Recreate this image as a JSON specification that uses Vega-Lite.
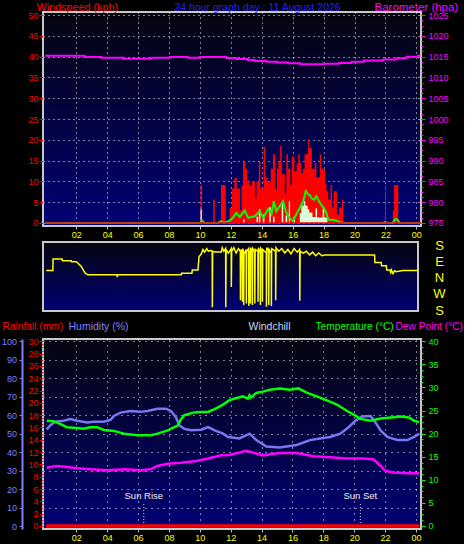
{
  "$schema": "https://vega.github.io/schema/vega-lite/v6.json",
  "background": "#000000",
  "padding": 0,
  "spacing": -3,
  "datasets": {
    "gust": [{"h":0,"v":0},{"h":10.04,"v":9.1},{"h":10.14,"v":0},{"h":10.86,"v":5.6},{"h":10.96,"v":0},{"h":11.36,"v":9.1},{"h":11.67,"v":0},{"h":11.92,"v":3.6},{"h":12.08,"v":8.3},{"h":12.23,"v":10.8},{"h":12.38,"v":8.3},{"h":12.59,"v":3},{"h":12.69,"v":9},{"h":12.79,"v":14.7},{"h":12.94,"v":13},{"h":13.05,"v":10.2},{"h":13.2,"v":9},{"h":13.35,"v":10},{"h":13.56,"v":6},{"h":13.66,"v":10},{"h":13.81,"v":14.7},{"h":13.91,"v":8.3},{"h":14.12,"v":18.3},{"h":14.22,"v":11},{"h":14.37,"v":9.8},{"h":14.58,"v":13},{"h":14.73,"v":16.5},{"h":14.88,"v":8},{"h":14.98,"v":13},{"h":15.08,"v":14.8},{"h":15.19,"v":18.5},{"h":15.29,"v":11.7},{"h":15.49,"v":7},{"h":15.59,"v":16.5},{"h":15.7,"v":13},{"h":15.85,"v":9},{"h":15.95,"v":16},{"h":16.11,"v":12.4},{"h":16.26,"v":14.3},{"h":16.36,"v":16.5},{"h":16.46,"v":14.5},{"h":16.56,"v":12},{"h":16.67,"v":13},{"h":16.77,"v":16.5},{"h":17.0,"v":20.2},{"h":17.06,"v":18},{"h":17.24,"v":13},{"h":17.43,"v":14.5},{"h":17.53,"v":11},{"h":17.75,"v":16.5},{"h":17.84,"v":13},{"h":18.09,"v":9.4},{"h":18.19,"v":7.6},{"h":18.3,"v":5.6},{"h":18.45,"v":9.1},{"h":18.55,"v":3.6},{"h":18.65,"v":7.6},{"h":18.86,"v":2},{"h":19.01,"v":3.7},{"h":19.19,"v":5.6},{"h":19.28,"v":0},{"h":21.97,"v":9.1},{"h":22.02,"v":0},{"h":22.48,"v":3},{"h":22.56,"v":9.1},{"h":22.83,"v":0},{"h":24.3,"v":0}],
    "spd": [{"h":0,"v":0},{"h":10.04,"v":3.3},{"h":10.12,"v":0},{"h":12.79,"v":0.8},{"h":12.89,"v":0},{"h":13.66,"v":1.5},{"h":13.76,"v":0},{"h":13.81,"v":3.3},{"h":13.91,"v":0},{"h":14.07,"v":2},{"h":14.17,"v":0},{"h":14.48,"v":3.8},{"h":14.58,"v":0},{"h":14.73,"v":1.5},{"h":14.83,"v":0},{"h":15.29,"v":4.5},{"h":15.39,"v":0},{"h":15.54,"v":1.8},{"h":15.65,"v":0},{"h":15.75,"v":5.2},{"h":15.83,"v":0},{"h":16.05,"v":1.5},{"h":16.15,"v":0},{"h":16.46,"v":2.4},{"h":16.56,"v":4.1},{"h":16.72,"v":5.2},{"h":16.82,"v":4.1},{"h":16.97,"v":3.3},{"h":17.07,"v":2.5},{"h":17.28,"v":1.4},{"h":17.48,"v":3.5},{"h":17.58,"v":1.3},{"h":17.94,"v":3.4},{"h":18.04,"v":1.3},{"h":18.25,"v":0},{"h":24.3,"v":0}],
    "avg": [{"h":0,"v":0},{"h":10.04,"v":0},{"h":10.14,"v":0.6},{"h":10.29,"v":0},{"h":11.16,"v":0},{"h":11.36,"v":0.4},{"h":11.57,"v":0},{"h":11.92,"v":0.5},{"h":12.14,"v":1.3},{"h":12.35,"v":2.4},{"h":12.58,"v":1.4},{"h":12.89,"v":3},{"h":13.12,"v":1.2},{"h":13.33,"v":1.4},{"h":13.55,"v":1.6},{"h":13.87,"v":2.8},{"h":14.09,"v":1.2},{"h":14.41,"v":3.3},{"h":14.63,"v":2.1},{"h":14.78,"v":5.2},{"h":14.94,"v":2.8},{"h":15.17,"v":4.1},{"h":15.38,"v":5.2},{"h":15.59,"v":2.4},{"h":15.81,"v":1.2},{"h":16.02,"v":0.4},{"h":16.24,"v":2.1},{"h":16.46,"v":3.6},{"h":16.68,"v":5.2},{"h":16.85,"v":7.7},{"h":16.97,"v":7.0},{"h":17.1,"v":6.7},{"h":17.22,"v":5.9},{"h":17.38,"v":5.6},{"h":17.53,"v":6.4},{"h":17.7,"v":5.2},{"h":17.86,"v":4.3},{"h":18.01,"v":3.6},{"h":18.18,"v":2.4},{"h":18.3,"v":0.8},{"h":18.6,"v":0.7},{"h":18.83,"v":0.5},{"h":19.05,"v":0.2},{"h":19.26,"v":0},{"h":21.86,"v":0},{"h":21.97,"v":0.2},{"h":22.17,"v":0},{"h":22.47,"v":0},{"h":22.63,"v":0.9},{"h":22.78,"v":0.8},{"h":22.93,"v":0},{"h":24.3,"v":0}],
    "baro": [{"h":0,"v":1015.24},{"h":2.55,"v":1014.92},{"h":3.62,"v":1014.76},{"h":5.02,"v":1014.52},{"h":6.86,"v":1014.76},{"h":8.04,"v":1014.92},{"h":9.22,"v":1014.76},{"h":9.99,"v":1014.92},{"h":11.71,"v":1014.68},{"h":12.35,"v":1014.44},{"h":13.1,"v":1014.2},{"h":13.55,"v":1013.97},{"h":14.3,"v":1013.8},{"h":15.0,"v":1013.6},{"h":15.7,"v":1013.4},{"h":16.5,"v":1013.2},{"h":18.0,"v":1013.3},{"h":19.0,"v":1013.5},{"h":19.8,"v":1013.75},{"h":20.62,"v":1014.05},{"h":21.85,"v":1014.29},{"h":22.71,"v":1014.6},{"h":23.36,"v":1015.0},{"h":24.11,"v":1015.24},{"h":24.25,"v":1015.24}],
    "dir": [{"h":0.06,"v":41.5},{"h":0.49,"v":41.5},{"h":0.5,"v":106},{"h":1.09,"v":106},{"h":1.1,"v":97},{"h":1.68,"v":97},{"h":1.7,"v":91},{"h":2.0,"v":91},{"h":2.1,"v":84},{"h":2.2,"v":75},{"h":2.33,"v":65},{"h":2.45,"v":45},{"h":2.6,"v":25},{"h":2.76,"v":17.7},{"h":4.64,"v":17.7},{"h":4.66,"v":4.5},{"h":4.68,"v":17.7},{"h":8.8,"v":17.7},{"h":8.82,"v":26.6},{"h":9.49,"v":26.6},{"h":9.51,"v":45.4},{"h":9.88,"v":45.4},{"h":9.95,"v":120},{"h":10.09,"v":134},{"h":10.2,"v":160},{"h":10.3,"v":145},{"h":10.45,"v":165},{"h":10.55,"v":150},{"h":10.7,"v":155},{"h":10.8,"v":148},{"h":10.81,"v":-165},{"h":10.83,"v":150},{"h":11.0,"v":146},{"h":11.39,"v":146},{"h":11.45,"v":170},{"h":11.55,"v":150},{"h":11.67,"v":165},{"h":11.68,"v":-165},{"h":11.7,"v":160},{"h":11.85,"v":140},{"h":12.03,"v":165},{"h":12.04,"v":-51},{"h":12.06,"v":150},{"h":12.2,"v":170},{"h":12.35,"v":140},{"h":12.5,"v":165},{"h":12.62,"v":150},{"h":12.63,"v":-125},{"h":12.66,"v":160},{"h":12.75,"v":140},{"h":12.76,"v":-134},{"h":12.78,"v":165},{"h":12.83,"v":150},{"h":12.84,"v":-152},{"h":12.86,"v":130},{"h":13.0,"v":160},{"h":13.01,"v":-143},{"h":13.03,"v":150},{"h":13.16,"v":165},{"h":13.17,"v":-158},{"h":13.19,"v":140},{"h":13.26,"v":150},{"h":13.27,"v":-143},{"h":13.29,"v":170},{"h":13.39,"v":140},{"h":13.4,"v":-152},{"h":13.42,"v":165},{"h":13.55,"v":145},{"h":13.56,"v":-143},{"h":13.58,"v":160},{"h":13.76,"v":150},{"h":13.77,"v":-134},{"h":13.79,"v":170},{"h":13.91,"v":140},{"h":13.92,"v":-152},{"h":13.94,"v":165},{"h":14.04,"v":150},{"h":14.05,"v":-134},{"h":14.07,"v":160},{"h":14.3,"v":140},{"h":14.31,"v":-162},{"h":14.33,"v":170},{"h":14.45,"v":150},{"h":14.46,"v":-152},{"h":14.48,"v":160},{"h":14.62,"v":140},{"h":14.63,"v":-158},{"h":14.65,"v":165},{"h":14.9,"v":150},{"h":14.91,"v":-125},{"h":14.93,"v":170},{"h":15.1,"v":150},{"h":15.3,"v":165},{"h":15.5,"v":140},{"h":15.7,"v":160},{"h":15.9,"v":135},{"h":16.1,"v":165},{"h":16.3,"v":145},{"h":16.46,"v":160},{"h":16.47,"v":-128},{"h":16.49,"v":150},{"h":16.7,"v":140},{"h":16.9,"v":150},{"h":17.1,"v":130},{"h":17.3,"v":145},{"h":17.5,"v":125},{"h":17.7,"v":140},{"h":17.9,"v":125},{"h":18.08,"v":128.5},{"h":21.31,"v":128.5},{"h":21.33,"v":87.5},{"h":21.74,"v":87.5},{"h":21.76,"v":69},{"h":22.07,"v":69},{"h":22.09,"v":45.4},{"h":22.3,"v":45.4},{"h":22.35,"v":30},{"h":22.4,"v":45},{"h":22.5,"v":25},{"h":22.6,"v":40},{"h":22.71,"v":35},{"h":23.15,"v":41.5},{"h":24.12,"v":41.5}],
    "temp": [{"h":0.08,"v":22.8},{"h":0.52,"v":22.7},{"h":0.95,"v":22.1},{"h":1.39,"v":21.4},{"h":2.04,"v":21.2},{"h":2.47,"v":21.05},{"h":2.91,"v":21.4},{"h":3.35,"v":21.4},{"h":3.78,"v":20.8},{"h":4.43,"v":20.6},{"h":5.09,"v":20.0},{"h":5.96,"v":19.65},{"h":6.83,"v":19.65},{"h":7.26,"v":20.0},{"h":7.92,"v":20.7},{"h":8.35,"v":21.4},{"h":8.57,"v":21.75},{"h":8.79,"v":23.2},{"h":9.0,"v":24.0},{"h":9.65,"v":24.6},{"h":10.09,"v":24.7},{"h":10.53,"v":24.7},{"h":10.96,"v":25.3},{"h":11.51,"v":26.3},{"h":11.94,"v":27.3},{"h":12.79,"v":28.07},{"h":13.1,"v":27.6},{"h":13.22,"v":28.3},{"h":13.3,"v":27.8},{"h":13.66,"v":28.8},{"h":14.09,"v":29.1},{"h":14.53,"v":29.5},{"h":15.18,"v":29.8},{"h":15.84,"v":29.5},{"h":16.38,"v":29.8},{"h":16.92,"v":28.9},{"h":17.58,"v":28.07},{"h":18.23,"v":27.2},{"h":18.88,"v":26.3},{"h":19.54,"v":24.9},{"h":20.08,"v":23.9},{"h":20.4,"v":23.2},{"h":21.06,"v":22.8},{"h":21.71,"v":23.3},{"h":22.36,"v":23.5},{"h":23.02,"v":23.7},{"h":23.56,"v":23.5},{"h":23.88,"v":22.8},{"h":24.21,"v":22.5}],
    "hum": [{"h":0.08,"v":52.3},{"h":0.3,"v":54.4},{"h":0.63,"v":56.5},{"h":1.17,"v":57},{"h":1.61,"v":57.9},{"h":2.04,"v":57},{"h":2.7,"v":56.1},{"h":3.13,"v":56.5},{"h":3.78,"v":56.5},{"h":4.22,"v":57.5},{"h":4.43,"v":59.6},{"h":4.87,"v":61.4},{"h":5.52,"v":62.3},{"h":6.17,"v":61.8},{"h":6.61,"v":62.3},{"h":7.26,"v":63.5},{"h":7.81,"v":63.5},{"h":8.13,"v":62.3},{"h":8.46,"v":58.8},{"h":8.68,"v":54.4},{"h":9.0,"v":52.6},{"h":9.44,"v":51.8},{"h":10.09,"v":52.1},{"h":10.53,"v":53.5},{"h":10.96,"v":51.8},{"h":11.51,"v":50},{"h":11.83,"v":48.2},{"h":12.57,"v":47.4},{"h":13.22,"v":50},{"h":13.66,"v":46.5},{"h":14.31,"v":43},{"h":15.18,"v":42.5},{"h":16.27,"v":43.9},{"h":17.14,"v":46.5},{"h":17.79,"v":47.4},{"h":18.45,"v":48.2},{"h":19.1,"v":50},{"h":19.64,"v":53.5},{"h":20.08,"v":57},{"h":20.52,"v":59.3},{"h":21.06,"v":59.6},{"h":21.38,"v":56.1},{"h":21.71,"v":51.8},{"h":22.15,"v":48.2},{"h":22.8,"v":46.5},{"h":23.45,"v":46.5},{"h":23.88,"v":48.2},{"h":24.21,"v":50}],
    "dew": [{"h":0.08,"v":12.6},{"h":0.74,"v":13.0},{"h":1.39,"v":12.8},{"h":2.04,"v":12.5},{"h":2.91,"v":12.3},{"h":4.0,"v":12.1},{"h":5.09,"v":12.3},{"h":6.17,"v":12.1},{"h":6.83,"v":12.3},{"h":7.26,"v":13.0},{"h":7.92,"v":13.5},{"h":8.79,"v":13.7},{"h":9.65,"v":14.0},{"h":10.53,"v":14.6},{"h":11.4,"v":15.3},{"h":11.94,"v":15.4},{"h":13.01,"v":16.3},{"h":14.09,"v":15.3},{"h":15.18,"v":15.8},{"h":16.27,"v":15.8},{"h":17.36,"v":15.1},{"h":18.45,"v":14.9},{"h":19.54,"v":14.6},{"h":20.62,"v":14.6},{"h":21.27,"v":14.4},{"h":21.71,"v":13.0},{"h":22.04,"v":11.9},{"h":22.6,"v":11.6},{"h":23.45,"v":11.4},{"h":24.21,"v":11.4}],
    "rain": [{"h":0.05,"v":0},{"h":24.21,"v":0}],
    "sun": [{"event":"Sun Rise","h":6.37},{"event":"Sun Set","h":20.4}]
  },
  "vconcat": [
    {
      "width": 378,
      "height": 214,
      "encoding": {
        "x": {"field": "h", "type": "quantitative", "scale": {"domain": [-0.15, 24.3], "nice": false, "zero": false},
          "axis": {"values": [2,4,6,8,10,12,14,16,18,20,22,24], "labelExpr": "datum.value == 24 ? '00' : (datum.value < 10 ? '0' + datum.value : '' + datum.value)", "labelColor": "#ffff00", "labelFontSize": 9, "labelOverlap": false, "labelSeparation": 0, "labelBound": false, "tickColor": "#c0c0c0", "tickSize": 3, "labelPadding": 1.5, "domain": false, "grid": true, "gridColor": "#ffffff", "gridDash": [1, 4], "title": null}}
      },
      "layer": [
        {
          "data": {"name": "gust"},
          "mark": {"type": "area", "interpolate": "step-after", "color": "#ff0000", "opacity": 1},
          "encoding": {
            "y": {"field": "v", "type": "quantitative", "scale": {"domain": [-0.75, 50.75], "nice": false, "zero": false},
              "axis": {"orient": "left", "values": [0,5,10,15,20,25,30,35,40,45,50], "labelColor": "#ff0000", "tickColor": "#ff0000", "tickSize": 4, "labelPadding": 1, "labelFontSize": 9, "labelOverlap": false, "domain": false, "grid": true, "gridColor": "#ffffff", "gridDash": [1, 4],
                "title": "Windspeed (kph)", "titleColor": "#ff0000", "titleAngle": 0, "titleAlign": "left", "titleBaseline": "alphabetic", "titleX": -7, "titleY": -1.7, "titleFontSize": 10.8, "titleFontWeight": "normal"}}
          }
        },
        {
          "data": {"name": "spd"},
          "mark": {"type": "area", "interpolate": "step-after", "color": "#d8ffd8", "opacity": 1},
          "encoding": {
            "y": {"field": "v", "type": "quantitative", "scale": {"domain": [-0.75, 50.75], "nice": false, "zero": false},
              "axis": {"orient": "left", "labels": false, "ticks": false, "domain": false, "grid": false,
                "title": "24 hour graph day : 11 August 2026", "titleColor": "#2020ff", "titleAngle": 0, "titleAlign": "left", "titleBaseline": "alphabetic", "titleX": 131, "titleY": -1.7, "titleFontSize": 10.5, "titleFontWeight": "normal"}}
          }
        },
        {
          "data": {"name": "avg"},
          "mark": {"type": "line", "color": "#00ff00", "strokeWidth": 2},
          "encoding": {
            "y": {"field": "v", "type": "quantitative", "scale": {"domain": [-0.75, 50.75], "nice": false, "zero": false},
              "axis": {"orient": "right", "values": [0,1.25,2.5,3.75,5,6.25,7.5,8.75,10,11.25,12.5,13.75,15,16.25,17.5,18.75,20,21.25,22.5,23.75,25,26.25,27.5,28.75,30,31.25,32.5,33.75,35,36.25,37.5,38.75,40,41.25,42.5,43.75,45,46.25,47.5,48.75,50], "labels": false, "ticks": true, "tickSize": 2, "tickColor": "#ff00ff", "domain": false, "grid": false, "title": null}}
          }
        },
        {
          "data": {"name": "baro"},
          "mark": {"type": "line", "interpolate": "step-after", "color": "#ff00ff", "strokeWidth": 2},
          "encoding": {
            "y": {"field": "v", "type": "quantitative", "scale": {"domain": [974.25, 1025.75], "nice": false, "zero": false},
              "axis": {"orient": "right", "values": [975,980,985,990,995,1000,1005,1010,1015,1020,1025], "format": "d", "labelColor": "#ff00ff", "tickColor": "#ff00ff", "tickSize": 4, "labelPadding": 3, "labelFontSize": 9, "labelOverlap": false, "domain": false, "grid": false,
                "title": "Barometer (hpa)", "titleColor": "#ff00ff", "titleAngle": 0, "titleAlign": "left", "titleBaseline": "alphabetic", "titleX": -47, "titleY": -1.7, "titleFontSize": 11.5, "titleFontWeight": "normal"}}
          }
        },
        {
          "data": {"name": "gust"},
          "mark": {"type": "rule", "color": "#ff0000", "strokeWidth": 1.5},
          "encoding": {
            "x": {"aggregate": "min", "field": "h", "type": "quantitative"},
            "x2": {"aggregate": "max", "field": "h"},
            "y": {"datum": 0, "type": "quantitative", "scale": {"domain": [-0.75, 50.75], "nice": false, "zero": false}, "axis": null}
          }
        }
      ],
      "resolve": {"scale": {"y": "independent"}}
    },
    {
      "width": 375,
      "height": 69,
      "data": {"name": "dir"},
      "mark": {"type": "line", "color": "#ffff00", "strokeWidth": 1.5},
      "encoding": {
        "x": {"field": "h", "type": "quantitative", "scale": {"domain": [-0.15, 24.12], "nice": false, "zero": false},
          "axis": {"labels": false, "domain": false, "grid": false, "ticks": true, "tickColor": "transparent", "tickSize": 10, "title": null}},
        "y": {"field": "v", "type": "quantitative", "scale": {"domain": [-185.5, 202], "nice": false, "zero": false},
          "axis": {"orient": "right", "values": [-180, -90, 0, 90, 180], "labelExpr": "datum.value == 0 ? 'N' : (datum.value == 90 ? 'E' : (datum.value == -90 ? 'W' : 'S'))", "labelColor": "#ffff00", "labelFontSize": 13, "labelOverlap": false, "labelAlign": "center", "labelPadding": 21, "ticks": false, "tickSize": 0, "domain": false, "grid": false, "title": null}}
      }
    },
    {
      "width": 378,
      "height": 190,
      "encoding": {
        "x": {"field": "h", "type": "quantitative", "scale": {"domain": [-0.16, 24.33], "nice": false, "zero": false},
          "axis": {"values": [2,4,6,8,10,12,14,16,18,20,22,24], "labelExpr": "datum.value == 24 ? '00' : (datum.value < 10 ? '0' + datum.value : '' + datum.value)", "labelColor": "#ffff00", "labelFontSize": 9, "labelOverlap": false, "labelSeparation": 0, "labelBound": false, "tickColor": "#c0c0c0", "tickSize": 3, "labelPadding": 1.5, "domain": false, "grid": true, "gridColor": "#ffffff", "gridDash": [1, 5], "title": null}}
      },
      "layer": [
        {
          "data": {"name": "sun"},
          "mark": {"type": "rule", "color": "#e8e8e8", "strokeDash": [1, 2], "strokeWidth": 1},
          "encoding": {
            "y": {"datum": 0, "type": "quantitative", "scale": {"domain": [-1.62, 101.25], "nice": false, "zero": false},
              "axis": {"orient": "left", "values": [10,20,30,40,50,60,70,80,90,100], "labels": false, "ticks": false, "domain": false, "grid": true, "gridColor": "#ffffff", "gridDash": [1, 5],
                "title": "Windchill", "titleColor": "#c8d8f8", "titleAngle": 0, "titleAlign": "left", "titleBaseline": "alphabetic", "titleX": 205, "titleY": -10, "titleFontSize": 10.5, "titleFontWeight": "normal"}},
            "y2": {"datum": 12}
          }
        },
        {
          "data": {"name": "sun"},
          "mark": {"type": "text", "color": "#f0f0f0", "fontSize": 9.5, "baseline": "middle"},
          "encoding": {
            "y": {"datum": 16, "type": "quantitative", "scale": {"domain": [-1.62, 101.25], "nice": false, "zero": false},
              "axis": {"orient": "right", "values": [0,3.125,6.25,9.375,12.5,15.625,18.75,21.875,25,28.125,31.25,34.375,37.5,40.625,43.75,46.875,50,53.125,56.25,59.375,62.5,65.625,68.75,71.875,75,78.125,81.25,84.375,87.5,90.625,93.75,96.875,100], "labels": false, "ticks": true, "tickSize": 2, "tickColor": "#00ff00", "domain": false, "grid": false, "title": null}},
            "text": {"field": "event"}
          }
        },
        {
          "data": {"name": "hum"},
          "mark": {"type": "line", "color": "#7878f0", "strokeWidth": 2.5},
          "encoding": {
            "y": {"field": "v", "type": "quantitative", "scale": {"domain": [-1.62, 101.25], "nice": false, "zero": false},
              "axis": {"orient": "left", "offset": 21, "values": [0,10,20,30,40,50,60,70,80,90,100], "labelColor": "#8080ff", "tickColor": "#8080ff", "tickSize": 3, "labelPadding": 2.5, "labelFontSize": 9, "labelOverlap": false, "domain": true, "domainColor": "#8080ff", "domainWidth": 2, "grid": false,
                "title": "Humidity (%)", "titleColor": "#8080ff", "titleAngle": 0, "titleAlign": "left", "titleBaseline": "alphabetic", "titleX": 46, "titleY": -10, "titleFontSize": 10.5, "titleFontWeight": "normal"}}
          }
        },
        {
          "data": {"name": "rain"},
          "mark": {"type": "line", "color": "#ff0000", "strokeWidth": 3},
          "encoding": {
            "y": {"field": "v", "type": "quantitative", "scale": {"domain": [-0.49, 30.37], "nice": false, "zero": false},
              "axis": {"orient": "left", "values": [0,0.5,1,1.5,2,2.5,3,3.5,4,4.5,5,5.5,6,6.5,7,7.5,8,8.5,9,9.5,10,10.5,11,11.5,12,12.5,13,13.5,14,14.5,15,15.5,16,16.5,17,17.5,18,18.5,19,19.5,20,20.5,21,21.5,22,22.5,23,23.5,24,24.5,25,25.5,26,26.5,27,27.5,28,28.5,29,29.5,30], "labels": false, "ticks": true, "tickSize": 2, "tickColor": "#ff0000", "domain": false, "grid": false, "title": null}}
          }
        },
        {
          "data": {"name": "rain"},
          "mark": {"type": "line", "color": "#ff0000", "strokeWidth": 3},
          "encoding": {
            "y": {"field": "v", "type": "quantitative", "scale": {"domain": [-0.49, 30.37], "nice": false, "zero": false},
              "axis": {"orient": "left", "values": [0,2,4,6,8,10,12,14,16,18,20,22,24,26,28,30], "labelColor": "#ff0000", "tickColor": "#ff0000", "tickSize": 4, "labelPadding": 1, "labelFontSize": 9, "labelOverlap": false, "domain": false, "grid": false,
                "title": "Rainfall (mm)", "titleColor": "#ff0000", "titleAngle": 0, "titleAlign": "left", "titleBaseline": "alphabetic", "titleX": -41, "titleY": -10, "titleFontSize": 10.2, "titleFontWeight": "normal"}}
          }
        },
        {
          "data": {"name": "temp"},
          "mark": {"type": "line", "color": "#00ff00", "strokeWidth": 2.5},
          "encoding": {
            "y": {"field": "v", "type": "quantitative", "scale": {"domain": [-0.65, 40.5], "nice": false, "zero": false},
              "axis": {"orient": "right", "values": [0,5,10,15,20,25,30,35,40], "labelColor": "#00ff00", "tickColor": "#00ff00", "tickSize": 4, "labelPadding": 3, "labelFontSize": 9, "labelOverlap": false, "domain": false, "grid": false,
                "title": "Temperature (°C)", "titleColor": "#00ff00", "titleAngle": 0, "titleAlign": "left", "titleBaseline": "alphabetic", "titleX": -106, "titleY": -10, "titleFontSize": 10.2, "titleFontWeight": "normal"}}
          }
        },
        {
          "data": {"name": "dew"},
          "mark": {"type": "line", "color": "#ff00ff", "strokeWidth": 2.5},
          "encoding": {
            "y": {"field": "v", "type": "quantitative", "scale": {"domain": [-0.65, 40.5], "nice": false, "zero": false},
              "axis": {"orient": "right", "labels": false, "ticks": false, "domain": false, "grid": false,
                "title": "Dew Point (°C)", "titleColor": "#ff00ff", "titleAngle": 0, "titleAlign": "left", "titleBaseline": "alphabetic", "titleX": -26, "titleY": -10, "titleFontSize": 10.2, "titleFontWeight": "normal"}}
          }
        }
      ],
      "resolve": {"scale": {"y": "independent"}}
    }
  ],
  "config": {
    "font": "Liberation Sans",
    "view": {
      "fill": {"gradient": "linear", "x1": 0, "y1": 0, "x2": 0, "y2": 1, "stops": [{"offset": 0, "color": "#05050f"}, {"offset": 1, "color": "#000075"}]},
      "stroke": "#c8c8c8",
      "strokeWidth": 2
    },
    "axis": {"labelFont": "Liberation Sans", "titleFont": "Liberation Sans", "labelOverlap": false, "labelFlush": false},
    "axisX": {"labelOverlap": false}
  }
}
